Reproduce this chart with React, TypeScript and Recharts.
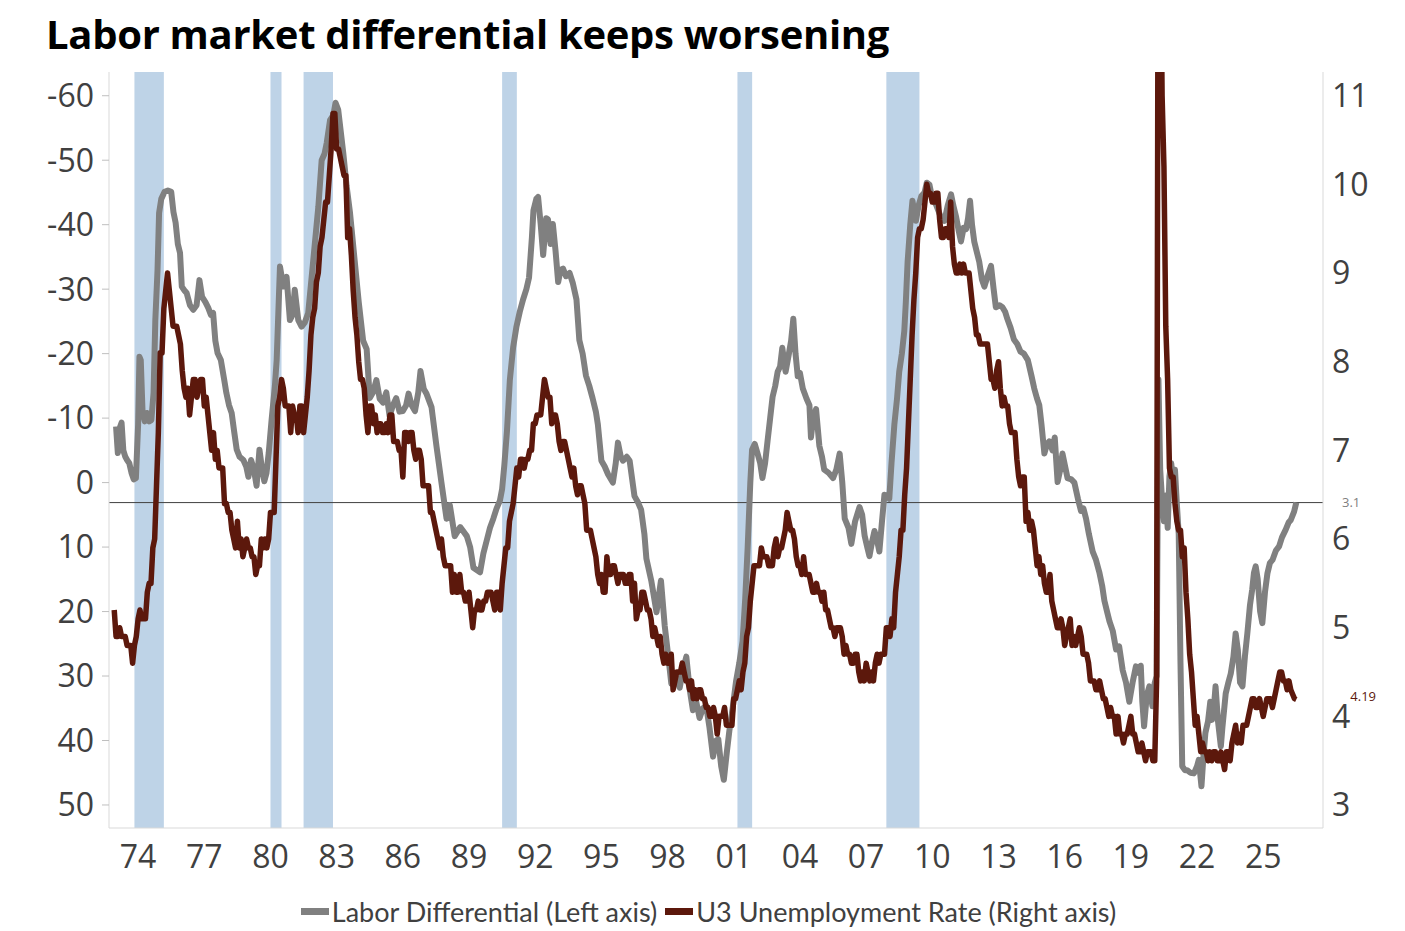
import React from "react";
import {
  LineChart,
  Line,
  XAxis,
  YAxis,
  ReferenceArea,
  ReferenceLine,
  ReferenceDot,
  Legend,
} from "recharts";

// U3 unemployment rate, monthly, first value = Dec 1972
const u3Start = 1972 + 11 / 12;
const u3_1970s = [
  5.2,
  4.9, 4.9, 5.0, 4.9, 4.9, 4.9, 4.8, 4.8, 4.8, 4.6, 4.8, 4.9,
  5.1, 5.2, 5.1, 5.1, 5.1, 5.4, 5.5, 5.5, 5.9, 6.0, 6.6, 7.2,
  8.1, 8.1, 8.6, 8.8, 9.0, 8.8, 8.6, 8.4, 8.4, 8.4, 8.3, 8.2,
  7.9, 7.7, 7.6, 7.7, 7.4, 7.6, 7.8, 7.8, 7.6, 7.7, 7.8, 7.8,
  7.5, 7.6, 7.4, 7.2, 7.0, 7.2, 6.9, 7.0, 6.8, 6.8, 6.8, 6.4,
  6.4, 6.3, 6.3, 6.1, 6.0, 5.9, 6.2, 5.9, 6.0, 5.8, 5.9, 6.0,
  5.9, 5.9, 5.8, 5.8, 5.6, 5.7, 5.7, 6.0, 5.9, 6.0, 5.9, 6.0,
];
const u3_1980s = [
  6.3, 6.3, 6.3, 6.9, 7.5, 7.6, 7.8, 7.7, 7.5, 7.5, 7.5, 7.2,
  7.5, 7.4, 7.4, 7.2, 7.5, 7.5, 7.2, 7.4, 7.6, 7.9, 8.3, 8.5,
  8.6, 8.9, 9.0, 9.3, 9.4, 9.6, 9.8, 9.8, 10.1, 10.4, 10.8, 10.8,
  10.4, 10.4, 10.3, 10.2, 10.1, 10.1, 9.4, 9.5, 9.2, 8.8, 8.5, 8.3,
  8.0, 7.8, 7.8, 7.7, 7.4, 7.2, 7.5, 7.5, 7.3, 7.4, 7.2, 7.3,
  7.3, 7.2, 7.2, 7.3, 7.2, 7.4, 7.4, 7.1, 7.1, 7.1, 7.0, 7.0,
  6.7, 7.2, 7.2, 7.1, 7.2, 7.2, 7.0, 6.9, 7.0, 7.0, 6.9, 6.6,
  6.6, 6.6, 6.6, 6.3, 6.3, 6.2, 6.1, 6.0, 5.9, 6.0, 5.8, 5.7,
  5.7, 5.7, 5.7, 5.4, 5.6, 5.4, 5.4, 5.6, 5.4, 5.4, 5.3, 5.3,
  5.4, 5.2, 5.0, 5.2, 5.2, 5.3, 5.2, 5.2, 5.3, 5.3, 5.4, 5.4,
];
const u3_1990s = [
  5.4, 5.3, 5.2, 5.4, 5.4, 5.2, 5.5, 5.7, 5.9, 5.9, 6.2, 6.3,
  6.4, 6.6, 6.8, 6.7, 6.9, 6.9, 6.8, 6.9, 6.9, 7.0, 7.0, 7.3,
  7.3, 7.4, 7.4, 7.4, 7.6, 7.8, 7.7, 7.6, 7.6, 7.3, 7.4, 7.4,
  7.3, 7.1, 7.0, 7.1, 7.1, 7.0, 6.9, 6.8, 6.7, 6.8, 6.6, 6.5,
  6.6, 6.6, 6.5, 6.4, 6.1, 6.1, 6.1, 6.0, 5.9, 5.8, 5.6, 5.5,
  5.6, 5.4, 5.4, 5.8, 5.6, 5.6, 5.7, 5.7, 5.6, 5.5, 5.6, 5.6,
  5.6, 5.5, 5.5, 5.6, 5.6, 5.3, 5.5, 5.1, 5.2, 5.2, 5.4, 5.4,
  5.3, 5.2, 5.2, 5.1, 4.9, 5.0, 4.9, 4.8, 4.9, 4.7, 4.6, 4.7,
  4.6, 4.6, 4.7, 4.3, 4.4, 4.5, 4.5, 4.5, 4.6, 4.5, 4.4, 4.4,
  4.3, 4.4, 4.2, 4.3, 4.2, 4.3, 4.3, 4.2, 4.2, 4.1, 4.1, 4.0,
];
const u3_2000s = [
  4.0, 4.1, 4.0, 3.8, 4.0, 4.0, 4.0, 4.1, 3.9, 3.9, 3.9, 3.9,
  4.2, 4.2, 4.3, 4.4, 4.3, 4.5, 4.6, 4.9, 5.0, 5.3, 5.5, 5.7,
  5.7, 5.7, 5.7, 5.9, 5.8, 5.8, 5.8, 5.7, 5.7, 5.7, 5.9, 6.0,
  5.8, 5.9, 5.9, 6.0, 6.1, 6.3, 6.2, 6.1, 6.1, 6.0, 5.8, 5.7,
  5.7, 5.6, 5.8, 5.6, 5.6, 5.6, 5.5, 5.4, 5.4, 5.5, 5.4, 5.4,
  5.3, 5.4, 5.2, 5.2, 5.1, 5.0, 5.0, 4.9, 5.0, 5.0, 5.0, 4.9,
  4.7, 4.8, 4.7, 4.7, 4.6, 4.6, 4.7, 4.7, 4.5, 4.4, 4.5, 4.4,
  4.6, 4.5, 4.4, 4.5, 4.4, 4.6, 4.7, 4.6, 4.7, 4.7, 4.7, 5.0,
  5.0, 4.9, 5.1, 5.0, 5.4, 5.6, 5.8, 6.1, 6.1, 6.5, 6.8, 7.3,
  7.8, 8.3, 8.7, 9.0, 9.4, 9.5, 9.5, 9.6, 9.8, 10.0, 9.9, 9.9,
];
const u3_2010s = [
  9.8, 9.8, 9.9, 9.9, 9.6, 9.4, 9.4, 9.5, 9.5, 9.4, 9.8, 9.3,
  9.1, 9.0, 9.0, 9.1, 9.0, 9.1, 9.0, 9.0, 9.0, 8.8, 8.6, 8.5,
  8.3, 8.3, 8.2, 8.2, 8.2, 8.2, 8.2, 8.0, 7.8, 7.8, 7.7, 7.9,
  8.0, 7.7, 7.5, 7.6, 7.5, 7.5, 7.3, 7.2, 7.2, 7.2, 6.9, 6.7,
  6.6, 6.7, 6.7, 6.2, 6.3, 6.1, 6.2, 6.1, 5.9, 5.7, 5.8, 5.6,
  5.7, 5.5, 5.4, 5.4, 5.6, 5.3, 5.2, 5.1, 5.0, 5.0, 5.1, 5.0,
  4.8, 4.9, 5.0, 5.1, 4.8, 4.9, 4.8, 4.9, 5.0, 4.9, 4.7, 4.7,
  4.7, 4.6, 4.4, 4.4, 4.4, 4.3, 4.3, 4.4, 4.3, 4.2, 4.2, 4.1,
  4.0, 4.1, 4.0, 4.0, 3.8, 4.0, 3.8, 3.8, 3.7, 3.8, 3.8, 3.9,
  4.0, 3.8, 3.8, 3.7, 3.6, 3.6, 3.7, 3.6, 3.5, 3.6, 3.6, 3.6,
];
const u3_2020s = [
  3.5, 3.5, 4.4, 14.8, 13.2, 11.0, 10.2, 8.4, 7.8, 6.8, 6.7, 6.7,
  6.4, 6.2, 6.1, 6.1, 5.8, 5.9, 5.4, 5.1, 4.7, 4.5, 4.2, 3.9,
  4.0, 3.8, 3.6, 3.7, 3.6, 3.6, 3.5, 3.6, 3.5, 3.6, 3.6, 3.5,
  3.5, 3.6, 3.5, 3.4, 3.6, 3.6, 3.5, 3.7, 3.8, 3.9, 3.7, 3.8,
  3.7, 3.9, 3.9, 3.9, 4.0, 4.1, 4.2, 4.2, 4.1, 4.1, 4.2, 4.1,
  4.0, 4.1, 4.2, 4.2, 4.2, 4.1, 4.2, 4.3, 4.4, 4.5, 4.5, 4.4,
  4.4, 4.3, 4.4, 4.3, 4.25, 4.2, 4.19,
];

// Labor differential (left axis), [year, value]
const diff1970s: [number, number][] = [
  [1973.0, -8.7], [1973.08, -4.6], [1973.17, -8.5], [1973.25, -9.3], [1973.33, -5],
  [1973.42, -4], [1973.5, -3.5], [1973.6, -3], [1973.7, -1.5], [1973.8, -0.5],
  [1973.9, -0.7], [1974.0, -9], [1974.06, -19.5], [1974.12, -19], [1974.2, -11],
  [1974.3, -9.5], [1974.4, -10.8], [1974.5, -9.5], [1974.6, -9.7], [1974.7, -13.9],
  [1974.78, -25.2], [1974.88, -33], [1974.95, -41.8], [1975.05, -44], [1975.2, -45.1],
  [1975.35, -45.3], [1975.5, -45.1], [1975.6, -42], [1975.7, -40.3], [1975.8, -37],
  [1975.9, -35.6], [1975.98, -30.4], [1976.1, -29.8], [1976.2, -29.4], [1976.35, -27.5],
  [1976.5, -26.8], [1976.65, -27.5], [1976.78, -31.4], [1976.9, -28.8], [1977.05, -28],
  [1977.18, -27.1], [1977.3, -26], [1977.4, -26.3], [1977.5, -22], [1977.6, -20.1],
  [1977.75, -19], [1977.9, -16], [1978.0, -13.9], [1978.12, -12], [1978.24, -10.8],
  [1978.35, -8], [1978.47, -5.1], [1978.6, -4], [1978.77, -3.5], [1978.9, -2.5],
  [1979.0, -0.9], [1979.12, -3.5], [1979.25, -2], [1979.37, 0.5], [1979.5, -5.1],
  [1979.6, -2.5], [1979.72, -0.2], [1979.82, -1.5], [1979.92, -4.6],
];
const diff1980s: [number, number][] = [
  [1980.05, -9.7], [1980.2, -15], [1980.28, -19], [1980.43, -33.5], [1980.58, -30.4],
  [1980.73, -31.9], [1980.88, -25.2], [1981.0, -26], [1981.1, -29.9], [1981.26, -25.2],
  [1981.41, -24.2], [1981.55, -24.8], [1981.71, -26.3], [1981.94, -34.5], [1982.17, -42.8],
  [1982.32, -50], [1982.45, -51], [1982.55, -52.7], [1982.7, -56.2], [1982.85, -57],
  [1982.95, -58.9], [1983.07, -57.8], [1983.3, -51.1], [1983.45, -46], [1983.6, -42],
  [1983.8, -35], [1984.0, -28], [1984.2, -22], [1984.36, -20.7], [1984.5, -13.1],
  [1984.65, -14], [1984.8, -15.9], [1984.95, -13], [1985.1, -12.4], [1985.25, -14],
  [1985.4, -10.3], [1985.55, -12], [1985.7, -13.1], [1985.85, -11], [1986.0, -11.1],
  [1986.15, -12], [1986.26, -13.8], [1986.4, -12], [1986.55, -11.1], [1986.7, -14],
  [1986.8, -17.3], [1986.95, -14.5], [1987.07, -13.8], [1987.3, -11.7], [1987.53, -5.5],
  [1987.75, 0], [1987.98, 5.6], [1988.13, 3.5], [1988.35, 8.3], [1988.6, 6.9],
  [1988.9, 8.3], [1989.05, 10], [1989.2, 13.2], [1989.5, 13.9], [1989.65, 11],
  [1989.8, 9.0], [1989.95, 7],
];
const diff1990s: [number, number][] = [
  [1990.1, 5.6], [1990.25, 4], [1990.4, 2.8], [1990.5, 1], [1990.6, -2.7],
  [1990.72, -8], [1990.85, -15.9], [1991.0, -21], [1991.15, -24.2], [1991.3, -26.5],
  [1991.45, -28.4], [1991.6, -30], [1991.72, -31.8], [1991.85, -38], [1991.92, -42.2],
  [1992.05, -44], [1992.13, -44.3], [1992.25, -40], [1992.36, -35.3], [1992.5, -41],
  [1992.58, -40.8], [1992.7, -37], [1992.8, -40.1], [1992.92, -36], [1993.04, -31.1],
  [1993.15, -33], [1993.26, -33.2], [1993.4, -32], [1993.56, -32.5], [1993.7, -31],
  [1993.87, -28.4], [1994.0, -22.1], [1994.15, -20], [1994.3, -16.6], [1994.45, -15],
  [1994.6, -13.1], [1994.75, -11], [1994.84, -9.0], [1995.0, -3.4], [1995.15, -2.5],
  [1995.3, -1.3], [1995.52, 0], [1995.65, -3], [1995.75, -6.2], [1995.88, -4],
  [1995.98, -3.4], [1996.15, -4], [1996.28, -3.4], [1996.5, 2.1], [1996.65, 3],
  [1996.8, 4.2], [1996.95, 8], [1997.04, 11.8], [1997.26, 15.2], [1997.5, 20.1],
  [1997.7, 15.2], [1997.87, 22.2], [1998.0, 26], [1998.17, 31.2], [1998.35, 30],
  [1998.55, 31.8], [1998.7, 29], [1998.85, 27.0], [1999.0, 32], [1999.15, 35.3],
  [1999.3, 34], [1999.45, 36.5], [1999.6, 35], [1999.75, 34.6], [1999.9, 38],
];
const diff2000s: [number, number][] = [
  [2000.06, 42.5], [2000.2, 40], [2000.3, 39.8], [2000.43, 44], [2000.55, 46.1],
  [2000.68, 42], [2000.8, 38.5], [2000.95, 35], [2001.1, 30.9], [2001.25, 28],
  [2001.4, 24.6], [2001.52, 18], [2001.63, 10.1], [2001.75, 0], [2001.83, -5.1],
  [2001.95, -6], [2002.08, -4.5], [2002.2, -3], [2002.3, -0.7], [2002.42, -3],
  [2002.53, -6.4], [2002.65, -10], [2002.76, -13.3], [2002.88, -15], [2002.99, -17.2],
  [2003.1, -18], [2003.2, -20.9], [2003.35, -17.2], [2003.5, -20], [2003.6, -22],
  [2003.7, -25.4], [2003.8, -20], [2003.9, -16.5], [2004.0, -17], [2004.13, -14.6],
  [2004.3, -13], [2004.43, -12.0], [2004.5, -7], [2004.6, -10], [2004.73, -11.4],
  [2004.88, -5.7], [2005.0, -4], [2005.1, -2.0], [2005.3, -1.5], [2005.5, -0.7],
  [2005.65, -2], [2005.8, -4.5], [2005.92, 0], [2006.03, 5.6], [2006.2, 7],
  [2006.33, 9.5], [2006.5, 6], [2006.7, 3.8], [2006.82, 5], [2006.93, 8.2],
  [2007.05, 10], [2007.15, 11.4], [2007.28, 9], [2007.38, 7.5], [2007.5, 9],
  [2007.6, 10.7], [2007.72, 6], [2007.83, 1.9], [2007.95, 2], [2008.05, 2.5],
  [2008.15, -3], [2008.28, -9.0], [2008.4, -13], [2008.5, -17.2], [2008.62, -20],
  [2008.73, -23.5], [2008.8, -28], [2008.88, -34.2], [2009.0, -40], [2009.1, -43.7],
  [2009.18, -42], [2009.26, -40.6], [2009.38, -43], [2009.5, -44.4], [2009.65, -45],
  [2009.75, -46.5], [2009.87, -46.2],
];
const diff2010s: [number, number][] = [
  [2010.0, -44], [2010.17, -43.1], [2010.35, -41.5], [2010.55, -40.6], [2010.7, -43],
  [2010.85, -44.7], [2010.95, -43], [2011.08, -41.2], [2011.2, -39], [2011.3, -37.4],
  [2011.42, -39.5], [2011.53, -39.3], [2011.62, -41], [2011.71, -43.7], [2011.8, -40],
  [2011.9, -37.4], [2012.0, -36], [2012.13, -34.2], [2012.25, -31.5], [2012.36, -30.4],
  [2012.5, -32], [2012.66, -33.6], [2012.78, -30], [2012.88, -27.2], [2013.05, -27.5],
  [2013.18, -27.2], [2013.3, -26.5], [2013.4, -25.4], [2013.55, -24], [2013.7, -22.2],
  [2013.85, -21.5], [2014.0, -20.3], [2014.15, -20], [2014.33, -19.0], [2014.5, -16.5],
  [2014.62, -14.6], [2014.75, -13], [2014.85, -12], [2014.95, -9], [2015.08, -4.5],
  [2015.2, -6], [2015.3, -6.4], [2015.45, -5], [2015.55, -7.0], [2015.68, -0.1],
  [2015.8, -2], [2015.9, -4.5], [2016.02, -2.5], [2016.13, -0.7], [2016.3, -0.5],
  [2016.44, 0], [2016.6, 2.5], [2016.74, 4.4], [2016.85, 4], [2016.97, 5.6],
  [2017.1, 8], [2017.27, 10.7], [2017.42, 12], [2017.57, 13.9], [2017.7, 16],
  [2017.8, 18.3], [2017.92, 20], [2018.03, 21.5], [2018.18, 23], [2018.33, 25.9],
  [2018.47, 25.4], [2018.63, 29.1], [2018.78, 31], [2018.93, 34], [2019.08, 31],
  [2019.23, 28.5], [2019.35, 29.5], [2019.45, 28.4], [2019.52, 34], [2019.6, 37.8],
  [2019.72, 33], [2019.84, 31.6], [2019.98, 34.7],
];
const diff2020s: [number, number][] = [
  [2020.08, 31.1], [2020.17, 30], [2020.25, -16], [2020.33, -2], [2020.42, 3],
  [2020.5, 6], [2020.58, 2], [2020.67, 7], [2020.75, -1], [2020.83, -3],
  [2020.92, 0], [2021.0, -2], [2021.08, 3], [2021.17, 8], [2021.25, 28],
  [2021.33, 44], [2021.45, 44.6], [2021.55, 44.6], [2021.7, 45], [2021.86, 45.1],
  [2022.0, 44], [2022.08, 43], [2022.2, 47.1], [2022.3, 42], [2022.38, 38.8],
  [2022.5, 37], [2022.6, 34], [2022.68, 36.8], [2022.76, 35], [2022.84, 31.6],
  [2022.95, 37], [2023.08, 40.9], [2023.15, 38], [2023.3, 32.7], [2023.42, 31],
  [2023.53, 29.6], [2023.65, 27], [2023.75, 23.4], [2023.85, 26], [2023.95, 31],
  [2024.06, 31.6], [2024.17, 27], [2024.28, 23.4], [2024.4, 19], [2024.5, 16.6],
  [2024.58, 14], [2024.66, 13.0], [2024.75, 15], [2024.86, 20], [2024.96, 21.8],
  [2025.08, 17], [2025.19, 14.1], [2025.3, 12.5], [2025.42, 12.0], [2025.58, 10.5],
  [2025.72, 9.9], [2025.85, 8.5], [2026.02, 7.3], [2026.15, 6.2], [2026.25, 5.8],
  [2026.4, 4.5], [2026.5, 3.1],
];

// NBER recessions (decimal years); the 2020 one is hidden under the U3 spike
const recessionStarts = [1973.833, 1980.0, 1981.5, 1990.5, 2001.167, 2007.917];
const recessionEnds = [1975.167, 1980.5, 1982.833, 1991.167, 2001.833, 2009.417];

const xTickYears = [1974, 1977, 1980, 1983, 1986, 1989, 1992, 1995, 1998, 2001, 2004, 2007, 2010, 2013, 2016, 2019, 2022, 2025];
const leftTicks = [-60, -50, -40, -30, -20, -10, 0, 10, 20, 30, 40, 50];
const rightTicks = [3, 4, 5, 6, 7, 8, 9, 10, 11];

const latestDiff = 3.1;
const latestU3 = 4.19;

const GRAY = "#808080";
const RED = "#5c180c";
const SHADE = "#bed3e7";
const AXIS_TEXT = "#404040";

const u3Data = [...u3_1970s, ...u3_1980s, ...u3_1990s, ...u3_2000s, ...u3_2010s, ...u3_2020s].map(
  (v, i) => ({ t: u3Start + i / 12, u3: v })
);
const diffData = [...diff1970s, ...diff1980s, ...diff1990s, ...diff2000s, ...diff2010s, ...diff2020s].map(
  ([t, v]) => ({ t, diff: v })
);

const legendItems = [
  { label: "Labor Differential (Left axis)", color: GRAY },
  { label: "U3 Unemployment Rate (Right axis)", color: RED },
];

const ChartLegend = () => (
  <div
    style={{
      display: "flex",
      justifyContent: "center",
      alignItems: "center",
      height: 40,
      paddingLeft: 20,
      fontFamily: "Lato, sans-serif",
      fontSize: 27,
      color: AXIS_TEXT,
    }}
  >
    {legendItems.map((item) => (
      <div key={item.label} style={{ display: "flex", alignItems: "center", marginRight: 8 }}>
        <span style={{ display: "inline-block", width: 28, height: 7, background: item.color, marginRight: 3 }} />
        <span>{item.label}</span>
      </div>
    ))}
  </div>
);

// small end-of-series tag, kept just clear of the right-axis "4"
const LatestU3Label = (props: any) => {
  const { viewBox } = props;
  if (!viewBox) return null;
  return (
    <text
      x={viewBox.x + 54}
      y={viewBox.y - 2}
      fill={RED}
      fontSize={13}
      fontFamily="Open Sans, sans-serif"
      dominantBaseline="middle"
    >
      {String(latestU3)}
    </text>
  );
};

const tickStyle = { fontSize: 32, fill: AXIS_TEXT, fontFamily: "Open Sans, sans-serif" };

const App = () => {
  return (
    <div style={{ position: "absolute", left: 0, top: 0, width: 1405, height: 931, background: "#fff" }}>
      <div
        style={{
          position: "absolute",
          left: 46,
          top: 14,
          fontFamily: "Open Sans, sans-serif",
          fontWeight: 700,
          fontSize: 40,
          lineHeight: "40px",
          letterSpacing: -0.3,
          color: "#000",
          whiteSpace: "nowrap",
        }}
      >
        Labor market differential keeps worsening
      </div>

      <LineChart width={1405} height={931} margin={{ top: 72, right: 0, bottom: 0, left: 0 }}>
        <XAxis
          dataKey="t"
          type="number"
          domain={[1972.68, 2027.71]}
          ticks={xTickYears}
          interval={0}
          tickFormatter={(v) => String(v % 100).padStart(2, "0")}
          tick={tickStyle}
          tickLine={false}
          tickMargin={11}
          axisLine={{ stroke: "#d9d9d9" }}
          height={63}
        />
        <YAxis
          yAxisId="left"
          orientation="left"
          reversed
          domain={[-63.68, 53.57]}
          ticks={leftTicks}
          interval={0}
          allowDataOverflow
          tick={tickStyle}
          tickSize={7}
          tickMargin={8}
          tickLine={{ stroke: "#bfbfbf" }}
          axisLine={{ stroke: "#d9d9d9" }}
          width={109}
        />
        <YAxis
          yAxisId="right"
          orientation="right"
          domain={[2.741, 11.267]}
          ticks={rightTicks}
          interval={0}
          allowDataOverflow
          tick={tickStyle}
          tickLine={false}
          tickSize={6}
          tickMargin={3}
          axisLine={{ stroke: "#d9d9d9" }}
          width={82}
        />

        {recessionStarts.map((start, i) => (
          <ReferenceArea
            key={start}
            yAxisId="left"
            x1={start}
            x2={recessionEnds[i]}
            fill={SHADE}
            fillOpacity={1}
            stroke="none"
          />
        ))}

        <ReferenceLine
          yAxisId="left"
          y={latestDiff}
          stroke="#404040"
          strokeWidth={1}
          label={{ value: String(latestDiff), position: "right", offset: 19, fill: "#7f7f7f", fontSize: 13, fontFamily: "Open Sans, sans-serif" }}
        />

        <Line
          yAxisId="left"
          data={diffData}
          dataKey="diff"
          name="Labor Differential (Left axis)"
          stroke={GRAY}
          strokeWidth={6}
          strokeLinejoin="round"
          dot={false}
          activeDot={false}
          type="linear"
          isAnimationActive={false}
        />
        <Line
          yAxisId="right"
          data={u3Data}
          dataKey="u3"
          name="U3 Unemployment Rate (Right axis)"
          stroke={RED}
          strokeWidth={5.5}
          strokeLinejoin="round"
          dot={false}
          activeDot={false}
          type="linear"
          isAnimationActive={false}
        />

        <ReferenceDot
          yAxisId="right"
          x={u3Data[u3Data.length - 1].t}
          y={latestU3}
          r={0}
          fill="none"
          stroke="none"
          label={<LatestU3Label />}
        />

        <Legend verticalAlign="bottom" content={() => <ChartLegend />} />
      </LineChart>
    </div>
  );
};

export default App;
